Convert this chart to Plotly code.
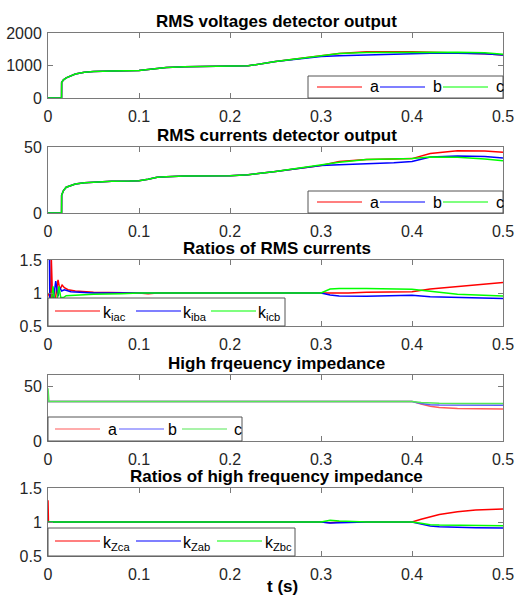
import plotly.graph_objects as go

W, H = 521, 597

# ---------------- data ----------------
x_ticks = [0, 0.1, 0.2, 0.3, 0.4, 0.5]

# RMS voltages
t_v = [0, 0.0149, 0.015, 0.017, 0.02, 0.025, 0.03, 0.04, 0.05, 0.07, 0.09, 0.1, 0.11, 0.12, 0.13,
       0.15, 0.2, 0.22, 0.25, 0.28, 0.3, 0.32, 0.35, 0.38, 0.4, 0.42, 0.45, 0.48, 0.5]
v_common = [0, 0, 480, 560, 620, 690, 740, 790, 815, 830, 840, 850, 880, 920, 940,
            960, 980, 990, 1120, 1230, 1280]
v_a = v_common + [1370, 1420, 1430, 1425, 1405, 1390, 1360, 1320]
v_b = v_common + [1300, 1330, 1345, 1360, 1375, 1380, 1360, 1320]
v_c = v_common + [1370, 1400, 1405, 1400, 1405, 1410, 1390, 1350]

# RMS currents
t_i = t_v
i_common = [0, 0, 13.5, 17, 19.5, 21, 22, 23, 23.5, 24, 24.2, 24.5, 25.5, 27, 27.5,
            28, 28.3, 29, 31.5, 34.5, 36]
i_a = i_common + [39, 40.5, 41, 41.2, 45, 47.2, 47, 46]
i_b = i_common + [36.5, 37, 38, 39, 42.5, 43.2, 42.8, 41.7]
i_c = i_common + [38.5, 40.5, 41, 41.2, 42.5, 42.2, 41, 39.6]

# Ratios of RMS currents
t_kiac = [0, 0.003, 0.0035, 0.005, 0.008, 0.011, 0.013, 0.0155, 0.018, 0.022, 0.03, 0.05, 0.1,
          0.11, 0.12, 0.3, 0.31, 0.33, 0.35, 0.4, 0.42, 0.45, 0.48, 0.5]
k_iac = [1.0, 0.9, 1.6, 0.9, 0.9, 1.2, 1.05, 1.12, 1.08, 1.05, 1.03, 1.01, 1.0,
         0.99, 1.0, 1.0, 0.99, 1.0, 1.01, 1.02, 1.06, 1.1, 1.14, 1.16]
t_kiba = [0, 0.0015, 0.002, 0.006, 0.0085, 0.011, 0.013, 0.015, 0.018, 0.025, 0.05, 0.3,
          0.31, 0.32, 0.35, 0.38, 0.4, 0.42, 0.45, 0.5]
k_iba = [1.6, 1.6, 0.9, 0.9, 1.18, 0.95, 1.08, 1.03, 1.05, 1.02, 1.0, 1.0,
         0.97, 0.955, 0.95, 0.955, 0.965, 0.945, 0.935, 0.915]
t_kicb = [0, 0.004, 0.0055, 0.007, 0.01, 0.012, 0.014, 0.017, 0.02, 0.03, 0.05, 0.08, 0.1,
          0.3, 0.31, 0.32, 0.35, 0.4, 0.41, 0.43, 0.45, 0.5]
k_icb = [0.9, 0.9, 1.1, 0.9, 0.9, 1.1, 0.93, 0.93, 0.96, 0.97, 0.98, 0.99, 1.0,
         1.0, 1.06, 1.07, 1.07, 1.055, 1.04, 1.0, 0.98, 0.955]

# High frequency impedance
t_z = [0, 0.0005, 0.001, 0.3, 0.31, 0.32, 0.33, 0.4, 0.41, 0.42, 0.43, 0.45, 0.5]
z_a = [36, 36, 36, 36, 36, 36, 36, 36, 33.5, 31.5, 30.5, 29.5, 29]
z_b = [36, 36, 36, 36, 36.6, 36.4, 36, 36, 34, 33, 32.7, 32.5, 32.4]
z_c = [48, 36, 36, 36, 36, 36, 36, 36, 35, 34.5, 34.3, 34.2, 34.2]

# Ratios of high frequency impedance
t_kz = [0, 0.0005, 0.3, 0.31, 0.32, 0.35, 0.4, 0.41, 0.42, 0.43, 0.45, 0.47, 0.5]
k_zca = [1.32, 1.0, 1.0, 0.99, 1.0, 1.0, 1.0, 1.04, 1.08, 1.11, 1.15, 1.175, 1.19]
k_zab = [1.0, 1.0, 1.0, 0.985, 0.99, 1.0, 1.0, 0.97, 0.94, 0.93, 0.92, 0.915, 0.91]
k_zbc = [1.0, 1.0, 1.0, 1.025, 1.015, 1.0, 1.0, 0.98, 0.96, 0.955, 0.95, 0.947, 0.945]

titles = ["RMS voltages detector output", "RMS currents detector output",
          "Ratios of RMS currents", "High frqeuency impedance",
          "Ratios of high frequency impedance"]

# ---------------- styling / layout ----------------
FONT = "Liberation Sans, Arial, sans-serif"
RED, BLUE, GREEN = "#ff0000", "#0000ff", "#00ff00"
RED4, BLUE4, GREEN4 = "#ff5a5a", "#5a5aff", "#55e855"
AX_COL = "#7a7a7a"

x0, x1 = 48, 503
px_y = [(33, 98), (147, 213), (260, 326), (375, 441), (488, 556)]

# legend boxes (pixel layout): box x-left, x-right, y-top, y-bottom, line y, item line starts, text starts
leg_layout = [
    dict(box=(308, 503, 76, 98), ly=87, starts=[317, 380, 443], texts=[368, 431, 494]),
    dict(box=(308, 503, 191, 213), ly=202, starts=[317, 380, 443], texts=[368, 431, 494]),
    dict(box=(48, 285, 298, 326), ly=311, starts=[55, 136, 211], texts=[101, 181, 256]),
    dict(box=(48, 242, 417, 441), ly=429, starts=[55, 119, 182], texts=[106, 166, 232]),
    dict(box=(48, 295, 528, 556), ly=541, starts=[55, 136, 217], texts=[101, 181, 263]),
]
LINE_LEN = 45


def px(xp):
    return xp / W


def py(yp):
    return 1 - yp / H


fig = go.Figure()

panels = [
    [(t_v, v_a, "a", RED), (t_v, v_b, "b", BLUE), (t_v, v_c, "c", GREEN)],
    [(t_i, i_a, "a", RED), (t_i, i_b, "b", BLUE), (t_i, i_c, "c", GREEN)],
    [(t_kiac, k_iac, "k<sub>iac</sub>", RED), (t_kiba, k_iba, "k<sub>iba</sub>", BLUE),
     (t_kicb, k_icb, "k<sub>icb</sub>", GREEN)],
    [(t_z, z_a, "a", RED4), (t_z, z_b, "b", BLUE4), (t_z, z_c, "c", GREEN4)],
    [(t_kz, k_zca, "k<sub>Zca</sub>", RED), (t_kz, k_zab, "k<sub>Zab</sub>", BLUE),
     (t_kz, k_zbc, "k<sub>Zbc</sub>", GREEN)],
]
y_ranges = [[0, 2000], [0, 50], [0.5, 1.5], [0, 60], [0.5, 1.5]]
y_ticks = [[0, 1000, 2000], [0, 50], [0.5, 1, 1.5], [0, 50], [0.5, 1, 1.5]]

shapes = []
for k, series in enumerate(panels):
    n = k + 1
    xa = "x" if n == 1 else f"x{n}"
    ya = "y" if n == 1 else f"y{n}"
    for tx, vy, name, col in series:
        fig.add_trace(go.Scatter(x=tx, y=vy, name=name, mode="lines",
                                 line=dict(color=col, width=1.5),
                                 xaxis=xa, yaxis=ya, showlegend=False))
    axcommon = dict(showline=True, linecolor=AX_COL, linewidth=1, mirror="ticks",
                    ticks="inside", ticklen=5, tickcolor=AX_COL, showgrid=False,
                    zeroline=False, automargin=False,
                    tickfont=dict(family=FONT, size=16, color="#262626"))
    top, bot = px_y[k]
    fig.layout[f"xaxis{'' if n == 1 else n}"] = dict(
        domain=[px(x0), px(x1)], anchor=ya, range=[0, 0.5], tickvals=x_ticks,
        ticklabelstandoff=4, **axcommon)
    fig.layout[f"yaxis{'' if n == 1 else n}"] = dict(
        domain=[py(bot), py(top)], anchor=xa, range=y_ranges[k], tickvals=y_ticks[k],
        ticklabelstandoff=2, **axcommon)
    # title
    fig.add_annotation(text=f"<b>{titles[k]}</b>", xref="paper", yref="paper",
                       x=px((x0 + x1) / 2 + 1), y=py(top - 12), xanchor="center",
                       yanchor="middle", showarrow=False,
                       font=dict(family=FONT, size=17, color="black"))
    # legend (drawn manually, MATLAB style)
    L = leg_layout[k]
    bx0, bx1, by0, by1 = L["box"]
    shapes.append(dict(type="rect", xref="paper", yref="paper", x0=px(bx0), x1=px(bx1),
                       y0=py(by1), y1=py(by0), line=dict(color="#555555", width=1),
                       fillcolor="white", layer="above"))
    for (tx, vy, name, col), s, tpos in zip(series, L["starts"], L["texts"]):
        shapes.append(dict(type="line", xref="paper", yref="paper", x0=px(s),
                           x1=px(s + LINE_LEN), y0=py(L["ly"]), y1=py(L["ly"]),
                           line=dict(color=col, width=1.2), layer="above"))
        fig.add_annotation(text=name, xref="paper", yref="paper", x=px(tpos),
                           y=py(L["ly"] + (2 if "sub" in name else 0)),
                           xanchor="left", yanchor="middle", showarrow=False,
                           font=dict(family=FONT, size=16, color="black"))

fig.add_annotation(text="<b>t (s)</b>", xref="paper", yref="paper", x=px(282),
                   y=py(586), xanchor="center", yanchor="middle", showarrow=False,
                   font=dict(family=FONT, size=17, color="black"))

fig.update_layout(width=W, height=H, margin=dict(l=0, r=0, t=0, b=0, pad=0, autoexpand=False),
                  paper_bgcolor="white", plot_bgcolor="white", showlegend=False,
                  shapes=shapes)

fig.write_html("out.html", config={"displayModeBar": False},
               post_script="document.body.style.margin='0';document.body.style.overflow='hidden';")
